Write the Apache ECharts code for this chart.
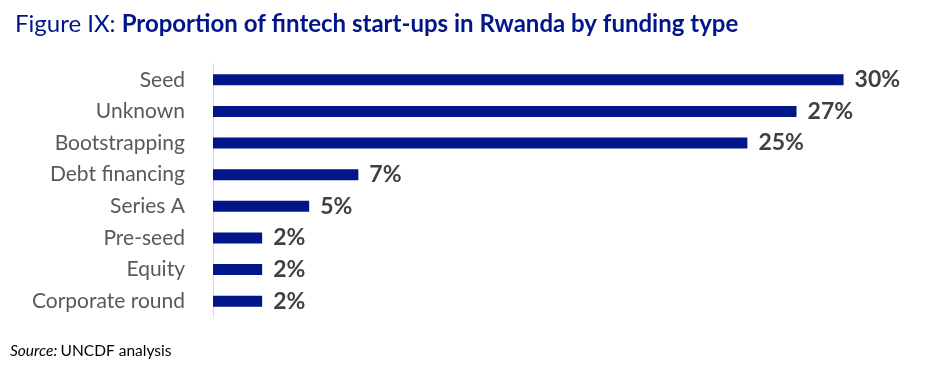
<!DOCTYPE html>
<html>
<head>
<meta charset="utf-8">
<script src="https://cdn.jsdelivr.net/npm/echarts@6/dist/echarts.min.js"></script>
<style>
html,body{margin:0;padding:0;background:#fff;}
#chart{width:928px;height:374px;}
</style>
</head>
<body>
<div id="chart"></div>
<script>
const categories = ['Seed','Unknown','Bootstrapping','Debt financing','Series A','Pre-seed','Equity','Corporate round'];
const values = [29.5, 27.3, 25.0, 6.8, 4.5, 2.3, 2.3, 2.3];

const chart = echarts.init(document.getElementById('chart'));
chart.setOption({
  animation: false,
  backgroundColor: '#ffffff',
  title: {
    left: 10, top: 7,
    text: '{a|Figure IX: }{b|Proportion of fintech start-ups in Rwanda by funding type}',
    textStyle: {
      rich: {
        a: {fontFamily: 'Lato', fontSize: 24, color: '#001689', fontWeight: 'normal'},
        b: {fontFamily: 'Lato', fontSize: 24, color: '#001689', fontWeight: 'bold'}
      }
    }
  },
  graphic: [{
    type: 'text', left: 10, top: 343,
    style: {
      text: '{i|Source:} {n|UNCDF analysis}',
      rich: {
        i: {fontFamily: 'Lato', fontSize: 15.5, fontStyle: 'italic', fill: '#000'},
        n: {fontFamily: 'Lato', fontSize: 15.5, fill: '#000'}
      }
    }
  }],
  grid: {left: 213, right: 31, top: 64, bottom: 57, containLabel: false},
  xAxis: {type: 'value', min: 0, max: 32, show: false},
  yAxis: {
    type: 'category', data: categories, inverse: true,
    axisLine: {show: true, lineStyle: {color: '#d9d9d9', width: 1}},
    axisTick: {show: false},
    axisLabel: {fontFamily: 'Lato', fontSize: 21, color: '#595959', margin: 28}
  },
  series: [{
    type: 'bar', data: values, barWidth: 11,
    itemStyle: {color: '#001689'},
    label: {
      show: true, position: 'right', distance: 11,
      formatter: p => Math.round(p.value) + '%',
      fontFamily: 'Lato', fontSize: 23, fontWeight: 'bold', color: '#404040'
    }
  }]
});
</script>
</body>
</html>
